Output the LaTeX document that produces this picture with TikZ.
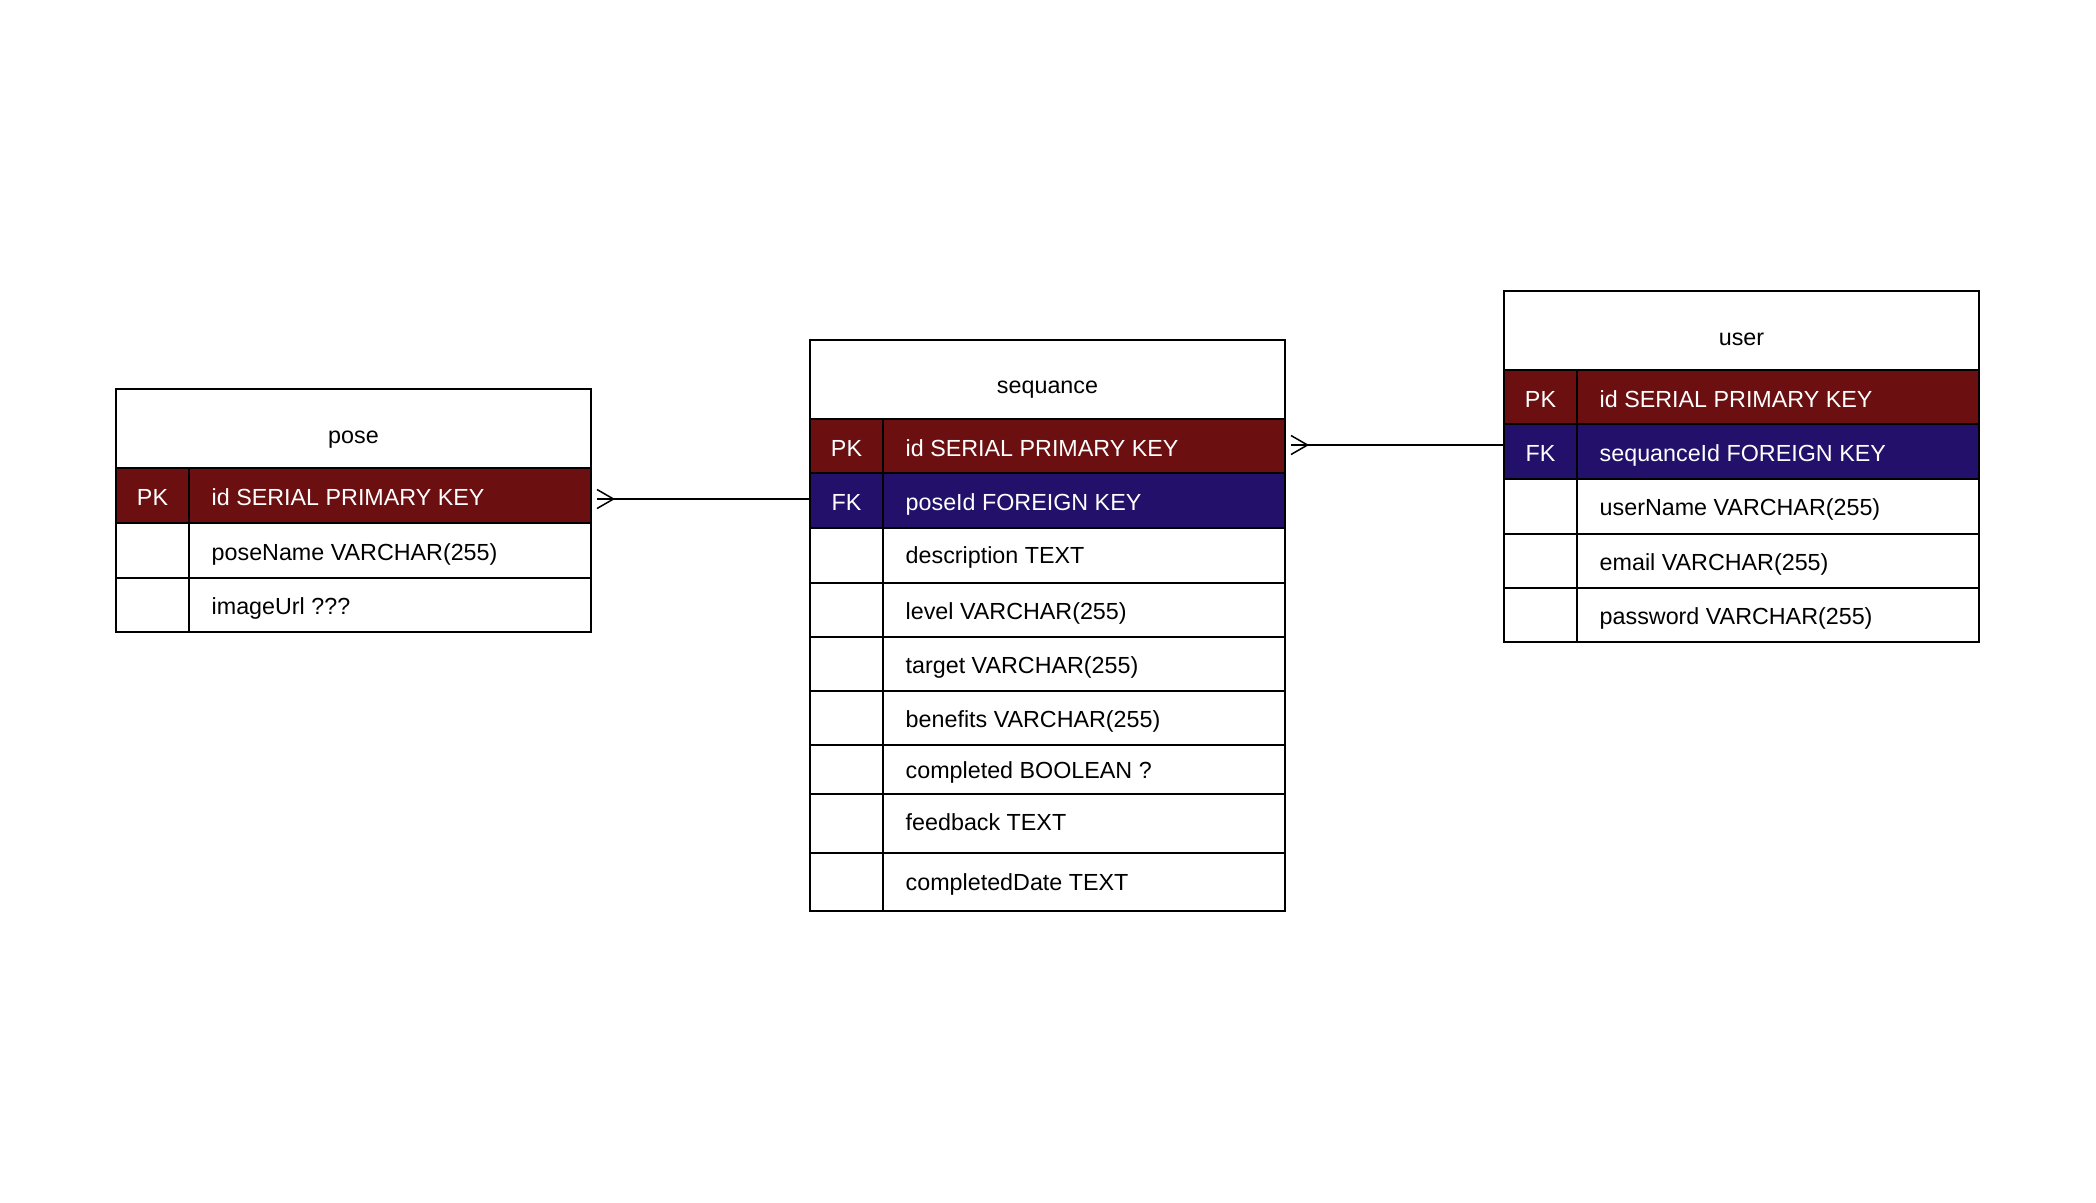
\documentclass[tikz,border=0pt]{standalone}
\usepackage{fontspec}
\setmainfont{Liberation Sans}
\usetikzlibrary{calc}
\definecolor{pkred}{RGB}{107,15,17}
\definecolor{fkblue}{RGB}{35,16,107}
\newcommand{\tfs}{\fontsize{23.3}{28}\selectfont}
\begin{document}
\begin{tikzpicture}[x=1pt,y=-1pt,
  cell/.style={draw=black, line width=1.3pt, anchor=north west, inner sep=0pt, outer sep=0pt},
  keycell/.style={cell, minimum width=73pt},
  fieldcell/.style={cell, minimum width=402pt},
  hdrcell/.style={cell, minimum width=475pt, minimum height=79pt},
  pkrow/.style={fill=pkred},
  fkrow/.style={fill=fkblue},
  keytxt/.style={anchor=base, inner sep=0pt, font=\tfs, text=white},
  ftxt/.style={anchor=base west, inner sep=0pt, font=\tfs},
  wtxt/.style={ftxt, text=white},
  htxt/.style={anchor=base, inner sep=0pt, font=\tfs},
  conn/.style={draw=black, line width=1.5pt}
]
\useasboundingbox (0,0) rectangle (2096,1202);
\fill[white] (0,0) rectangle (2096,1202);

% ---------------- pose ----------------
\node[hdrcell] (poseH) at (116,389) {};
\node[htxt] (poseT) at (353.5,443) {pose};
\node[keycell, pkrow, minimum height=55pt] (posePKk) at (116,468) {};
\node[fieldcell, pkrow, minimum height=55pt] (posePK) at (189,468) {};
\node[keytxt] at ($(posePKk.center)+(0,10)$) {PK};
\node[wtxt] at ($(posePK.west)+(22.5,10)$) {id SERIAL PRIMARY KEY};
\node[keycell, minimum height=55pt] (poseR2k) at (116,523) {};
\node[fieldcell, minimum height=55pt] (poseR2) at (189,523) {};
\node[ftxt] at ($(poseR2.west)+(22.5,9.5)$) {poseName VARCHAR(255)};
\node[keycell, minimum height=54pt] (poseR3k) at (116,578) {};
\node[fieldcell, minimum height=54pt] (poseR3) at (189,578) {};
\node[ftxt] at ($(poseR3.west)+(22.5,9)$) {imageUrl ???};

% ---------------- sequance ----------------
\node[hdrcell] (seqH) at (810,340) {};
\node[htxt] (seqT) at (1047.5,393) {sequance};
\node[keycell, pkrow, minimum height=54pt] (seqPKk) at (810,419) {};
\node[fieldcell, pkrow, minimum height=54pt] (seqPK) at (883,419) {};
\node[keytxt] at ($(seqPKk.center)+(0,10)$) {PK};
\node[wtxt] at ($(seqPK.west)+(22.5,10)$) {id SERIAL PRIMARY KEY};
\node[keycell, fkrow, minimum height=55pt] (seqFKk) at (810,473) {};
\node[fieldcell, fkrow, minimum height=55pt] (seqFK) at (883,473) {};
\node[keytxt] at ($(seqFKk.center)+(0,10)$) {FK};
\node[wtxt] at ($(seqFK.west)+(22.5,10)$) {poseId FOREIGN KEY};
\node[keycell, minimum height=55pt] (seqR3k) at (810,528) {};
\node[fieldcell, minimum height=55pt] (seqR3) at (883,528) {};
\node[ftxt] at ($(seqR3.west)+(22.5,8)$) {description TEXT};
\node[keycell, minimum height=54pt] (seqR4k) at (810,583) {};
\node[fieldcell, minimum height=54pt] (seqR4) at (883,583) {};
\node[ftxt] at ($(seqR4.west)+(22.5,9)$) {level VARCHAR(255)};
\node[keycell, minimum height=54pt] (seqR5k) at (810,637) {};
\node[fieldcell, minimum height=54pt] (seqR5) at (883,637) {};
\node[ftxt] at ($(seqR5.west)+(22.5,9)$) {target VARCHAR(255)};
\node[keycell, minimum height=54pt] (seqR6k) at (810,691) {};
\node[fieldcell, minimum height=54pt] (seqR6) at (883,691) {};
\node[ftxt] at ($(seqR6.west)+(22.5,9)$) {benefits VARCHAR(255)};
\node[keycell, minimum height=49pt] (seqR7k) at (810,745) {};
\node[fieldcell, minimum height=49pt] (seqR7) at (883,745) {};
\node[ftxt] at ($(seqR7.west)+(22.5,8.8)$) {completed BOOLEAN ?};
\node[keycell, minimum height=59pt] (seqR8k) at (810,794) {};
\node[fieldcell, minimum height=59pt] (seqR8) at (883,794) {};
\node[ftxt] at ($(seqR8.west)+(22.5,6.5)$) {feedback TEXT};
\node[keycell, minimum height=58pt] (seqR9k) at (810,853) {};
\node[fieldcell, minimum height=58pt] (seqR9) at (883,853) {};
\node[ftxt] at ($(seqR9.west)+(22.5,8)$) {completedDate TEXT};

% ---------------- user ----------------
\node[hdrcell] (userH) at (1504,291) {};
\node[htxt] (userT) at (1741.5,345) {user};
\node[keycell, pkrow, minimum height=54pt] (userPKk) at (1504,370) {};
\node[fieldcell, pkrow, minimum height=54pt] (userPK) at (1577,370) {};
\node[keytxt] at ($(userPKk.center)+(0,10)$) {PK};
\node[wtxt] at ($(userPK.west)+(22.5,10)$) {id SERIAL PRIMARY KEY};
\node[keycell, fkrow, minimum height=55pt] (userFKk) at (1504,424) {};
\node[fieldcell, fkrow, minimum height=55pt] (userFK) at (1577,424) {};
\node[keytxt] at ($(userFKk.center)+(0,10)$) {FK};
\node[wtxt] at ($(userFK.west)+(22.5,10)$) {sequanceId FOREIGN KEY};
\node[keycell, minimum height=55pt] (userR3k) at (1504,479) {};
\node[fieldcell, minimum height=55pt] (userR3) at (1577,479) {};
\node[ftxt] at ($(userR3.west)+(22.5,9)$) {userName VARCHAR(255)};
\node[keycell, minimum height=54pt] (userR4k) at (1504,534) {};
\node[fieldcell, minimum height=54pt] (userR4) at (1577,534) {};
\node[ftxt] at ($(userR4.west)+(22.5,9)$) {email VARCHAR(255)};
\node[keycell, minimum height=54pt] (userR5k) at (1504,588) {};
\node[fieldcell, minimum height=54pt] (userR5) at (1577,588) {};
\node[ftxt] at ($(userR5.west)+(22.5,9)$) {password VARCHAR(255)};

% ---------------- connectors ----------------
\coordinate (c1) at ($(posePK.east)+(6,3.5)$);
\draw[conn] (c1) -- (c1 -| seqFKk.west);
\draw[conn] (c1) ++(0,-9.5) -- ++(16.5,9.5) -- ++(-16.5,9.5);

\coordinate (c2) at ($(seqPK.east)+(6,-1)$);
\draw[conn] (c2) -- (c2 -| userFKk.west);
\draw[conn] (c2) ++(0,-9.5) -- ++(16.5,9.5) -- ++(-16.5,9.5);
\end{tikzpicture}
\end{document}
